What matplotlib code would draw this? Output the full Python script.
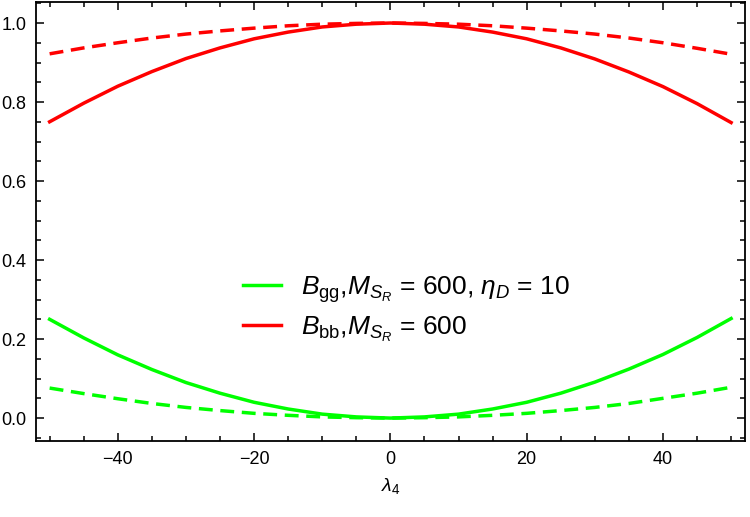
import matplotlib
matplotlib.use("Agg")
import matplotlib.pyplot as plt
from matplotlib.ticker import MultipleLocator

plt.rcParams['font.family'] = ['Liberation Sans', 'DejaVu Sans']
plt.rcParams['mathtext.fontset'] = 'custom'
plt.rcParams['mathtext.rm'] = 'Liberation Sans'
plt.rcParams['mathtext.it'] = 'Liberation Sans:italic'
plt.rcParams['mathtext.bf'] = 'Liberation Sans:bold'

lam4 = [-50, -45, -40, -35, -30, -25, -20, -15, -10, -5, 0,
        5, 10, 15, 20, 25, 30, 35, 40, 45, 50]

bbb_solid = [0.750, 0.797, 0.840, 0.877, 0.910, 0.937, 0.960, 0.977, 0.990, 0.997, 1.000,
             0.997, 0.990, 0.977, 0.960, 0.937, 0.909, 0.876, 0.839, 0.796, 0.748]
bgg_solid = [0.250, 0.203, 0.160, 0.123, 0.090, 0.063, 0.040, 0.023, 0.010, 0.003, 0.000,
             0.003, 0.010, 0.023, 0.040, 0.063, 0.091, 0.124, 0.161, 0.204, 0.252]
bbb_dash = [0.922, 0.937, 0.950, 0.962, 0.972, 0.980, 0.987, 0.993, 0.997, 0.999, 1.000,
            0.999, 0.997, 0.993, 0.987, 0.980, 0.972, 0.962, 0.950, 0.936, 0.921]
bgg_dash = [0.076, 0.062, 0.049, 0.037, 0.027, 0.019, 0.012, 0.007, 0.003, 0.001, 0.000,
            0.001, 0.003, 0.007, 0.012, 0.019, 0.027, 0.037, 0.050, 0.063, 0.078]

label_gg = r"$B_{\mathrm{gg}}$,$M_{S_R}$ = 600, $\eta_D$ = 10"
label_bb = r"$B_{\mathrm{bb}}$,$M_{S_R}$ = 600"

fig = plt.figure(figsize=(7.5, 5.17), dpi=100)
ax = fig.add_axes([0.048, 0.147, 0.945, 0.849])

lw = 2.5
ax.plot(lam4, bgg_solid, color=(0, 1, 0), lw=lw, label=label_gg)
ax.plot(lam4, bbb_solid, color=(1, 0, 0), lw=lw, label=label_bb)
ax.plot(lam4, bbb_dash, color=(1, 0, 0), lw=lw, ls=(0, (4, 2.2)))
ax.plot(lam4, bgg_dash, color=(0, 1, 0), lw=lw, ls=(0, (4, 2.2)))

ax.set_xlim(-52, 52)
ax.set_ylim(-0.058, 1.053)
ax.xaxis.set_major_locator(MultipleLocator(20))
ax.xaxis.set_minor_locator(MultipleLocator(5))
ax.yaxis.set_major_locator(MultipleLocator(0.2))
ax.yaxis.set_minor_locator(MultipleLocator(0.05))
ax.yaxis.set_major_formatter(matplotlib.ticker.FormatStrFormatter('%.1f'))
ax.xaxis.set_major_formatter(matplotlib.ticker.FuncFormatter(
    lambda v, p: ('\u2212%d' % abs(v)) if v < 0 else '%d' % v))

ax.tick_params(which='both', direction='in', top=True, right=True, width=1.1,
               labelsize=13, color='black')
ax.tick_params(which='major', length=6, pad=7)
ax.tick_params(which='minor', length=3.5)
for s in ax.spines.values():
    s.set_linewidth(1.3)

ax.set_xlabel(r"$\lambda_4$", fontsize=14, labelpad=6)

leg = ax.legend(loc='center', bbox_to_anchor=(0.522, 0.301), frameon=False,
                fontsize=19, handlelength=1.45, handletextpad=0.75,
                labelspacing=0.36)

fig.savefig("out.png", dpi=100)
